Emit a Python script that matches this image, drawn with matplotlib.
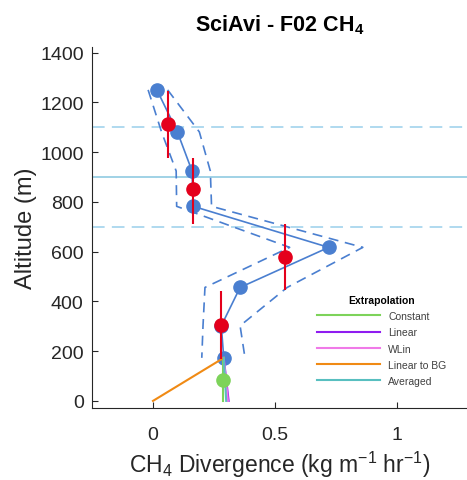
import matplotlib
matplotlib.use('Agg')
import matplotlib.pyplot as plt
import numpy as np

plt.rcParams['font.family'] = ['Liberation Sans', 'DejaVu Sans']
plt.rcParams['mathtext.fontset'] = 'custom'
plt.rcParams['mathtext.rm'] = 'Liberation Sans'
plt.rcParams['mathtext.it'] = 'Liberation Sans:italic'
plt.rcParams['mathtext.bf'] = 'Liberation Sans:bold'

# divergence profile (blue) and its uncertainty envelope
alt = [1250, 1081, 924, 782, 617, 456, 302, 173]
div = [0.016, 0.10, 0.16, 0.165, 0.72, 0.357, 0.28, 0.29]
div_lo = [-0.02, 0.035, 0.095, 0.097, 0.56, 0.213, 0.205, 0.20]
div_hi = [0.06, 0.19, 0.235, 0.24, 0.86, 0.55, 0.357, 0.377]

# binned averages (red) with vertical extent of each bin
bin_alt = [1113, 851, 577, 306]
bin_div = [0.061, 0.164, 0.54, 0.28]
bin_lo = [976, 710, 444, 170]
bin_hi = [1246, 976, 710, 440]

# reference altitudes
lvl_dash = [1100, 700]
lvl_solid = [900]

# extrapolation to ground from lowest point
ext_names = ['Constant', 'Linear', 'WLin', 'Linear to BG', 'Averaged']
ext_colors = ['#7dd35a', '#8f1cf0', '#f07ae8', '#f08a14', '#58bfc0']
ext_x0 = [0.285, 0.29, 0.29, 0.29, 0.29]
ext_y0 = [173, 173, 173, 173, 173]
ext_x1 = [0.285, 0.31, 0.307, 0.0, 0.30]
ext_y1 = [0, 0, 0, 0, 0]
avg_pt = (0.285, 85)

blue = '#4a7fd0'
red = '#e4001c'
lightblue = '#a9d7ee'

fig = plt.figure(figsize=(4.67, 4.81), dpi=100)
ax = fig.add_axes([0.197, 0.150, 0.803, 0.750])

for y in lvl_dash:
    ax.axhline(y, color=lightblue, lw=1.3, ls=(0, (7, 4)), zorder=1)
for y in lvl_solid:
    ax.axhline(y, color='#98cfe4', lw=1.3, zorder=1)

ax.plot(div_lo, alt, color=blue, lw=1.2, ls=(0, (6, 4)), zorder=2)
ax.plot(div_hi, alt, color=blue, lw=1.2, ls=(0, (6, 4)), zorder=2)
ax.plot(div, alt, '-o', color=blue, lw=1.2, ms=9.5, zorder=3)

for i in range(len(ext_names)):
    ax.plot([ext_x0[i], ext_x1[i]], [ext_y0[i], ext_y1[i]], color=ext_colors[i],
            lw=1.5, label=ext_names[i], zorder=4)
ax.plot(avg_pt[0], avg_pt[1], 'o', color=ext_colors[0], ms=9.5, zorder=4)

ax.vlines(bin_div, bin_lo, bin_hi, color=red, lw=1.5, zorder=5)
ax.plot(bin_div, bin_alt, 'o', color=red, ms=9.5, zorder=6)

ax.set_xlim(-0.25, 1.287)
ax.set_ylim(-28, 1422)
ax.set_xticks([0, 0.5, 1])
ax.set_xticklabels(['0', '0.5', '1'])
ax.set_yticks(np.arange(0, 1401, 200))
for s in ['top', 'right']:
    ax.spines[s].set_visible(False)
for s in ['left', 'bottom']:
    ax.spines[s].set_color('#262626')
    ax.spines[s].set_linewidth(0.8)
ax.tick_params(direction='in', length=4, width=0.8, colors='#262626',
               labelsize=14, pad=6)
ax.tick_params(axis='x', pad=13)

ax.set_xlabel('CH$_4$ Divergence (kg m$^{-1}$ hr$^{-1}$)', fontsize=16.5,
              color='#262626', labelpad=4)
ax.set_ylabel('Altitude (m)', fontsize=17, color='#262626', labelpad=2)
ax.set_title(r'SciAvi - F02 CH$_\mathbf{4}$', fontsize=15.5, fontweight='bold', pad=12)

leg = fig.legend(loc='center', bbox_to_anchor=(0.818, 0.290), frameon=False,
                 fontsize=7.5, handlelength=6, title='Extrapolation',
                 title_fontproperties={'weight': 'bold', 'size': 7.5},
                 labelspacing=0.6)
for t in leg.get_texts():
    t.set_color('#404040')

fig.savefig('out.png', dpi=100)
